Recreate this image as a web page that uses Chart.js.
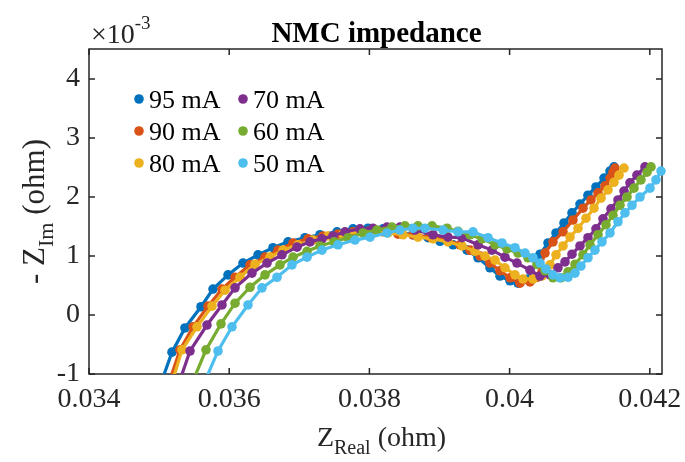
<!DOCTYPE html>
<html>
<head>
<meta charset="utf-8">
<title>NMC impedance</title>
<script src="https://cdn.jsdelivr.net/npm/chart.js@4.4.1/dist/chart.umd.min.js"></script>
<style>
  html, body { margin: 0; padding: 0; background: #ffffff; }
  #wrap { width: 685px; height: 462px; }
</style>
</head>
<body>
<div id="wrap"><canvas id="nyquist" width="685" height="462"></canvas></div>
<script>
// Nyquist data for the NMC cell at several currents.
// Z_Real in ohm, -Z_Im in units of 1e-3 ohm (axis carries the x10^-3 factor).
const seriesLabels = ['95 mA', '90 mA', '80 mA', '70 mA', '60 mA', '50 mA'];
const seriesColors = ['#0072BD', '#D95319', '#EDB120', '#7E2F8E', '#77AC30', '#4DBEEE'];

const zReal95 = [0.035013, 0.035184, 0.035369, 0.035598, 0.035769, 0.035983, 0.036197, 0.036411, 0.036625, 0.036839,
  0.037081, 0.037295, 0.037538, 0.037766, 0.037980, 0.038194, 0.038408, 0.038622, 0.038836, 0.039007,
  0.039193, 0.039392, 0.039549, 0.039720, 0.039863, 0.040006, 0.040120, 0.040262, 0.040434, 0.040548,
  0.040662, 0.040776, 0.040890, 0.041004, 0.041118, 0.041232, 0.041347, 0.041432, 0.041489];
const zIm95 = [-1.20, -0.63, -0.22, 0.14, 0.44, 0.68, 0.88, 1.02, 1.14, 1.24,
  1.31, 1.36, 1.41, 1.46, 1.47, 1.46, 1.41, 1.36, 1.31, 1.25,
  1.19, 1.10, 0.97, 0.80, 0.66, 0.58, 0.54, 0.61, 1.03, 1.22,
  1.39, 1.56, 1.73, 1.88, 2.03, 2.17, 2.32, 2.44, 2.51];

const zReal90 = [0.035127, 0.035298, 0.035484, 0.035698, 0.035897, 0.036083, 0.036297, 0.036511, 0.036696, 0.036910,
  0.037124, 0.037338, 0.037552, 0.037766, 0.037980, 0.038194, 0.038408, 0.038622, 0.038864, 0.039107,
  0.039292, 0.039435, 0.039578, 0.039720, 0.039863, 0.040006, 0.040148, 0.040291, 0.040391, 0.040505,
  0.040619, 0.040762, 0.040904, 0.041047, 0.041161, 0.041261, 0.041361, 0.041432, 0.041475, 0.041503];
const zIm90 = [-1.20, -0.59, -0.20, 0.15, 0.44, 0.64, 0.85, 0.98, 1.10, 1.22,
  1.29, 1.34, 1.37, 1.41, 1.42, 1.41, 1.37, 1.36, 1.32, 1.27,
  1.19, 1.10, 1.00, 0.88, 0.75, 0.63, 0.54, 0.56, 0.64, 1.05,
  1.24, 1.41, 1.61, 1.81, 1.95, 2.07, 2.19, 2.32, 2.42, 2.49];

const zReal80 = [0.035170, 0.035327, 0.035541, 0.035755, 0.035940, 0.036154, 0.036368, 0.036582, 0.036767, 0.036981,
  0.037195, 0.037409, 0.037623, 0.037837, 0.038051, 0.038265, 0.038479, 0.038693, 0.038907, 0.039121,
  0.039321, 0.039506, 0.039649, 0.039792, 0.039934, 0.040077, 0.040191, 0.040334, 0.040462, 0.040576,
  0.040662, 0.040762, 0.040862, 0.040976, 0.041090, 0.041204, 0.041304, 0.041404, 0.041489, 0.041561, 0.041632];
const zIm80 = [-1.20, -0.59, -0.20, 0.15, 0.42, 0.64, 0.86, 0.98, 1.10, 1.19,
  1.27, 1.34, 1.37, 1.41, 1.41, 1.39, 1.36, 1.32, 1.29, 1.24,
  1.17, 1.08, 1.00, 0.93, 0.80, 0.68, 0.61, 0.61, 0.66, 0.85,
  1.02, 1.17, 1.32, 1.47, 1.64, 1.81, 1.98, 2.12, 2.25, 2.37, 2.49];

const zReal70 = [0.035270, 0.035441, 0.035683, 0.035897, 0.036083, 0.036325, 0.036539, 0.036753, 0.036967, 0.037153,
  0.037324, 0.037481, 0.037652, 0.037866, 0.038051, 0.038251, 0.038436, 0.038650, 0.038907, 0.039121,
  0.039321, 0.039549, 0.039749, 0.039934, 0.040105, 0.040291, 0.040434, 0.040576, 0.040690, 0.040790,
  0.040890, 0.041004, 0.041118, 0.041232, 0.041332, 0.041446, 0.041546, 0.041632, 0.041717, 0.041817, 0.041931];
const zIm70 = [-1.20, -0.61, -0.17, 0.17, 0.46, 0.71, 0.88, 1.02, 1.15, 1.24,
  1.29, 1.34, 1.41, 1.46, 1.47, 1.49, 1.49, 1.44, 1.36, 1.32,
  1.31, 1.19, 1.10, 0.98, 0.88, 0.76, 0.66, 0.68, 0.80, 0.90,
  1.03, 1.17, 1.31, 1.46, 1.63, 1.80, 1.95, 2.10, 2.24, 2.37, 2.51];

const zReal60 = [0.035455, 0.035669, 0.035883, 0.036083, 0.036297, 0.036511, 0.036725, 0.036910, 0.037110, 0.037295,
  0.037495, 0.037695, 0.037909, 0.038108, 0.038322, 0.038508, 0.038693, 0.038893, 0.039107, 0.039264,
  0.039435, 0.039606, 0.039792, 0.039963, 0.040120, 0.040262, 0.040391, 0.040505, 0.040619, 0.040733,
  0.040833, 0.040933, 0.041047, 0.041147, 0.041261, 0.041375, 0.041475, 0.041575, 0.041675, 0.041774,
  0.041874, 0.041960, 0.042017];
const zIm60 = [-1.20, -0.59, -0.15, 0.20, 0.47, 0.68, 0.85, 0.98, 1.08, 1.17,
  1.24, 1.31, 1.39, 1.44, 1.49, 1.51, 1.51, 1.51, 1.47, 1.42,
  1.36, 1.29, 1.19, 1.12, 1.05, 0.97, 0.86, 0.75, 0.63, 0.63,
  0.73, 0.86, 1.02, 1.19, 1.36, 1.53, 1.69, 1.86, 2.00, 2.15,
  2.29, 2.42, 2.51];

const zReal50 = [0.035626, 0.035840, 0.036040, 0.036268, 0.036468, 0.036682, 0.036896, 0.037110, 0.037324, 0.037552,
  0.037795, 0.038009, 0.038251, 0.038436, 0.038622, 0.038793, 0.039050, 0.039264, 0.039478, 0.039692,
  0.039891, 0.040077, 0.040220, 0.040334, 0.040434, 0.040519, 0.040619, 0.040719, 0.040833, 0.040933,
  0.041018, 0.041118, 0.041218, 0.041318, 0.041432, 0.041546, 0.041646, 0.041746, 0.041860, 0.042003,
  0.042088, 0.042160];
const zIm50 = [-1.20, -0.61, -0.20, 0.17, 0.46, 0.64, 0.85, 0.98, 1.10, 1.19,
  1.27, 1.32, 1.39, 1.44, 1.47, 1.47, 1.44, 1.41, 1.41, 1.31,
  1.22, 1.14, 1.05, 0.97, 0.88, 0.78, 0.68, 0.63, 0.64, 0.71,
  0.83, 0.97, 1.10, 1.24, 1.39, 1.58, 1.73, 1.86, 2.00, 2.15,
  2.29, 2.44];

const xTickValues = [0.034, 0.036, 0.038, 0.04, 0.042];
const yTickValues = [-1, 0, 1, 2, 3, 4];

const realSets = [zReal95, zReal90, zReal80, zReal70, zReal60, zReal50];
const imagSets = [zIm95, zIm90, zIm80, zIm70, zIm60, zIm50];

const SERIF = '"Liberation Serif", "Times New Roman", serif';
const AXIS_COLOR = '#262626';

const datasets = seriesLabels.map((label, i) => ({
  label,
  data: realSets[i].map((x, k) => ({ x, y: imagSets[i][k] })),
  showLine: true,
  borderColor: seriesColors[i],
  backgroundColor: seriesColors[i],
  pointBackgroundColor: seriesColors[i],
  pointBorderWidth: 0,
  pointRadius: 4.8,
  pointHoverRadius: 4.8,
  borderWidth: 3.2,
  tension: 0,
  order: seriesLabels.length - i,          // later currents drawn on top
  clip: { left: 8, top: 8, right: 8, bottom: 0 }
}));

// Draws a run of text pieces; each piece may be shifted (sub/superscript) and sized.
function drawRuns(ctx, runs, startX, baseY) {
  let x = startX;
  runs.forEach(r => {
    ctx.font = r.font;
    ctx.fillText(r.text, x, baseY + (r.dy || 0));
    x += ctx.measureText(r.text).width;
  });
}
function runsWidth(ctx, runs) {
  let w = 0;
  runs.forEach(r => { ctx.font = r.font; w += ctx.measureText(r.text).width; });
  return w;
}

const framePlugin = {
  id: 'matlabFrame',
  beforeDatasetsDraw(chart) {
    const { ctx, chartArea: a, scales } = chart;
    ctx.save();
    ctx.strokeStyle = AXIS_COLOR;
    ctx.lineWidth = 1.5;
    ctx.strokeRect(a.left, a.top, a.right - a.left, a.bottom - a.top);
    const tl = 6;
    ctx.beginPath();
    xTickValues.forEach(v => {
      const px = scales.x.getPixelForValue(v);
      ctx.moveTo(px, a.bottom); ctx.lineTo(px, a.bottom - tl);
      ctx.moveTo(px, a.top); ctx.lineTo(px, a.top + tl);
    });
    yTickValues.forEach(v => {
      const py = scales.y.getPixelForValue(v);
      ctx.moveTo(a.left, py); ctx.lineTo(a.left + tl, py);
      ctx.moveTo(a.right, py); ctx.lineTo(a.right - tl, py);
    });
    ctx.stroke();
    ctx.restore();
  },
  afterDraw(chart) {
    const { ctx, chartArea: a } = chart;
    const legendFont = '26px ' + SERIF;
    const labelFont = '28px ' + SERIF;
    const subFont = '20px ' + SERIF;
    ctx.save();
    ctx.textBaseline = 'alphabetic';
    ctx.textAlign = 'left';

    // title
    ctx.fillStyle = '#000000';
    ctx.font = 'bold 29px ' + SERIF;
    ctx.textAlign = 'center';
    ctx.fillText('NMC impedance', (a.left + a.right) / 2 + 1, 42);
    ctx.textAlign = 'left';

    // exponent of the y axis
    ctx.fillStyle = AXIS_COLOR;
    drawRuns(ctx, [
      { text: '\u00d710', font: '28px ' + SERIF },
      { text: '-3', font: '19px ' + SERIF, dy: -14 }
    ], a.left + 2, 43);

    // x axis label
    const xRuns = [
      { text: 'Z', font: labelFont },
      { text: 'Real', font: subFont, dy: 8 },
      { text: ' (ohm)', font: labelFont }
    ];
    drawRuns(ctx, xRuns, (a.left + a.right) / 2 - runsWidth(ctx, xRuns) / 2 + 6, 446);

    // y axis label (rotated)
    const yRuns = [
      { text: '- Z', font: '31px ' + SERIF },
      { text: 'Im', font: '22px ' + SERIF, dy: 9 },
      { text: ' (ohm)', font: '31px ' + SERIF }
    ];
    ctx.translate(44, (a.top + a.bottom) / 2);
    ctx.rotate(-Math.PI / 2);
    drawRuns(ctx, yRuns, -runsWidth(ctx, yRuns) / 2, 0);
    ctx.setTransform(1, 0, 0, 1, 0, 0);

    // legend: two columns, three rows, marker only
    const cols = [{ mx: 139, tx: 149 }, { mx: 243, tx: 253 }];
    const rows = [99, 131, 163];
    ctx.font = legendFont;
    chart.data.datasets.forEach((ds, i) => {
      const c = cols[Math.floor(i / 3)];
      const ry = rows[i % 3];
      ctx.fillStyle = ds.borderColor;
      ctx.beginPath();
      ctx.arc(c.mx, ry, 4.8, 0, Math.PI * 2);
      ctx.fill();
      ctx.fillStyle = '#000000';
      ctx.fillText(ds.label, c.tx, ry + 9);
    });
    ctx.restore();
  }
};

new Chart(document.getElementById('nyquist'), {
  type: 'scatter',
  data: { datasets },
  options: {
    responsive: false,
    devicePixelRatio: 1,
    animation: false,
    layout: { padding: { top: 49, right: 23, left: 0, bottom: 0 } },
    plugins: {
      legend: { display: false },
      title: { display: false },
      tooltip: { enabled: false }
    },
    scales: {
      x: {
        type: 'linear',
        min: 0.034,
        max: 0.042174,
        afterBuildTicks: s => { s.ticks = xTickValues.map(v => ({ value: v })); },
        afterFit: s => { s.height = 88; s.paddingLeft = 0; s.paddingRight = 0; },
        grid: { display: false, drawTicks: false },
        border: { display: false },
        ticks: {
          autoSkip: false,
          maxRotation: 0,
          padding: 9,
          color: AXIS_COLOR,
          font: { family: SERIF, size: 28 },
          callback: v => String(v)
        }
      },
      y: {
        type: 'linear',
        min: -1,
        max: 4.508,
        afterBuildTicks: s => { s.ticks = yTickValues.map(v => ({ value: v })); },
        afterFit: s => { s.width = 89; s.paddingTop = 0; s.paddingBottom = 0; },
        grid: { display: false, drawTicks: false },
        border: { display: false },
        ticks: {
          autoSkip: false,
          padding: 9,
          color: AXIS_COLOR,
          font: { family: SERIF, size: 28 },
          callback: v => String(v)
        }
      }
    }
  },
  plugins: [framePlugin]
});
</script>
</body>
</html>
